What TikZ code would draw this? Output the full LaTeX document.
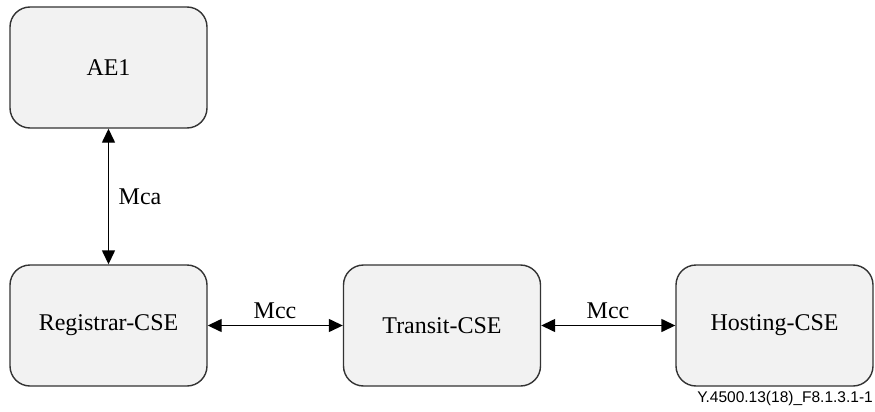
\documentclass[tikz,border=0pt]{standalone}
\usepackage{fontspec}
\setmainfont{Liberation Serif}
\setsansfont{Liberation Sans}
\usetikzlibrary{arrows.meta}
\tikzset{
  entity/.style={draw=black!80, fill=black!5, line width=1.4pt, rounded corners=20pt,
    minimum width=197pt, minimum height=121pt, inner sep=0pt, font=\fontsize{24}{27}\selectfont},
  tip/.style={Triangle[length=14pt,width=13pt]},
  link/.style={line width=1.4pt, {Triangle[length=14pt,width=13pt]}-{Triangle[length=14pt,width=13pt]}},
  lbl/.style={font=\fontsize{24}{27}\selectfont, inner sep=0pt},
}
\begin{document}
\begin{tikzpicture}[x=1pt, y=-1pt]
  \useasboundingbox (0,0) rectangle (875,412);
  \node[entity] (ae1) at (108.5,67.5) {AE1};
  \node[entity] (reg) at (108.5,325.5) {Registrar-CSE};
  \node[entity] (tra) at (442,325.5) {Transit-CSE};
  \node[entity] (hos) at (774.5,325.5) {Hosting-CSE};
  \draw[link] (ae1) -- (reg);
  \draw[link] (reg) -- (tra);
  \draw[link] (tra) -- (hos);
  \node[lbl] (mca) at (140,197) {Mca};
  \node[lbl] (mcc1) at (275,311) {Mcc};
  \node[lbl] (mcc2) at (608,311) {Mcc};
  \node[anchor=east, inner sep=0pt, font=\sffamily\fontsize{15.5}{17}\selectfont] (cap) at (873,398) {Y.4500.13(18)\_F8.1.3.1-1};
\end{tikzpicture}
\end{document}
